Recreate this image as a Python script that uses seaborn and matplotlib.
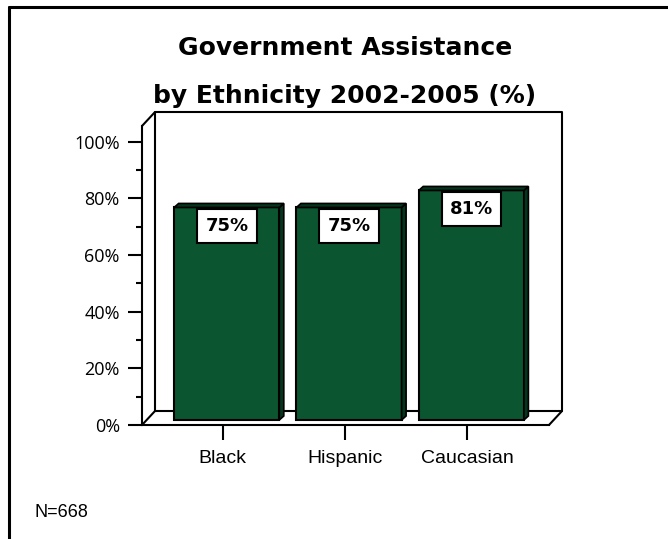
import matplotlib
matplotlib.use("Agg")
import matplotlib.pyplot as plt
import matplotlib.transforms as mtransforms
from matplotlib.lines import Line2D
from matplotlib.patches import Polygon
import numpy as np
import pandas as pd
import seaborn as sns

# data
ethnicities = ["Black", "Hispanic", "Caucasian"]
assistance_pct = [75, 75, 81]
y_ticks = [0, 20, 40, 60, 80, 100]
y_tick_labels = ["0%", "20%", "40%", "60%", "80%", "100%"]
y_minor_ticks = [10, 30, 50, 70, 90]
title_lines = ["Government Assistance", "by Ethnicity 2002-2005 (%)"]
sample_note = "N=668"

BAR_GREEN = "#0b5530"
SIDE_GREEN = "#05361d"

sns.set_style("white")
plt.rcParams["font.family"] = ["Liberation Sans", "DejaVu Sans"]
plt.rcParams.update({"text.color": "black", "axes.labelcolor": "black",
                     "xtick.color": "black", "ytick.color": "black"})

W, H = 668, 539
fig = plt.figure(figsize=(W / 100, H / 100), dpi=100)


def px_box(left, top, right, bottom):
    return [left / W, 1 - bottom / H, (right - left) / W, (bottom - top) / H]


ax = fig.add_axes(px_box(142, 126, 549, 425))
df = pd.DataFrame({"ethnicity": ethnicities, "pct": assistance_pct})
sns.barplot(data=df, x="ethnicity", y="pct", color=BAR_GREEN, saturation=1,
            width=0.86, edgecolor="black", linewidth=1.5, ax=ax, zorder=2)

ax.set_xlim(-0.66, 2.668)
ax.set_ylim(0, 105.5)
ax.set_xlabel("")
ax.set_ylabel("")
for side in ["top", "right"]:
    ax.spines[side].set_visible(False)
for side in ["left", "bottom"]:
    ax.spines[side].set_linewidth(1.5)
    ax.spines[side].set_color("black")

ax.set_yticks(y_ticks, y_tick_labels)
ax.set_yticks(y_minor_ticks, minor=True)
ax.tick_params(axis="y", which="major", length=10, width=1.5, pad=6,
               labelsize=13, left=True, direction="out")
ax.tick_params(axis="y", which="minor", length=4, width=1.5, left=True,
               direction="out")
ax.tick_params(axis="x", length=11, width=1.5, pad=7, labelsize=14,
               bottom=True, direction="out")
for lbl in ax.get_yticklabels():
    lbl.set_fontfamily(["Open Sans", "DejaVu Sans"])

# bars sit half way back on the floor
bar_shift = mtransforms.offset_copy(ax.transData, fig=fig, x=4, y=5, units="dots")
ident = mtransforms.IdentityTransform()
bar_depth = np.array([4.5, 4.0])
for patch, val in zip(ax.patches, assistance_pct):
    patch.set_transform(bar_shift)
    x0, w, h = patch.get_x(), patch.get_width(), patch.get_height()
    bl, br, tr, tl = bar_shift.transform([(x0, 0), (x0 + w, 0), (x0 + w, h), (x0, h)])
    for pts in ([br, br + bar_depth, tr + bar_depth, tr],
                [tl, tl + bar_depth, tr + bar_depth, tr]):
        ax.add_patch(Polygon(pts, closed=True, transform=ident, facecolor=SIDE_GREEN,
                             edgecolor="black", linewidth=1.2, clip_on=False, zorder=2))
    ax.annotate(f"{val}%", xy=(x0 + w / 2, h), xytext=(3, -10),
                textcoords="offset points", ha="center", va="center",
                fontsize=13, fontweight="bold", family="DejaVu Sans", zorder=4,
                bbox=dict(boxstyle="square,pad=0.45", fc="white", ec="black", lw=1.5))

# back wall and side edges of the 3d box
wall_depth = np.array([13.0, 14.0])
c00, c10, c11, c01 = ax.transAxes.transform([(0, 0), (1, 0), (1, 1), (0, 1)])
segments = [
    [c00 + wall_depth, c10 + wall_depth, c11 + wall_depth, c01 + wall_depth, c00 + wall_depth],
    [c00, c00 + wall_depth],
    [c01, c01 + wall_depth],
    [c10, c10 + wall_depth],
]
for seg in segments:
    seg = np.array(seg)
    ax.add_line(Line2D(seg[:, 0], seg[:, 1], transform=ident, color="black",
                       linewidth=1.5, clip_on=False, zorder=1))

# titles and note
fig.text(345 / W, 1 - 55 / H, title_lines[0], ha="center", va="baseline",
         fontsize=18, fontweight="bold", family="DejaVu Sans")
fig.text(345 / W, 1 - 103 / H, title_lines[1], ha="center", va="baseline",
         fontsize=18, fontweight="bold", family="DejaVu Sans")
fig.text(35 / W, 1 - 517 / H, sample_note, ha="left", va="baseline", fontsize=13)

# outer frame (top and left edges visible)
fig.add_artist(Line2D([8.5 / W, 1], [1 - 7 / H, 1 - 7 / H], transform=fig.transFigure,
                      color="black", linewidth=2.2))
fig.add_artist(Line2D([8.5 / W, 8.5 / W], [1 - 7 / H, 0], transform=fig.transFigure,
                      color="black", linewidth=2.2))

fig.savefig("out.png", dpi=100)
